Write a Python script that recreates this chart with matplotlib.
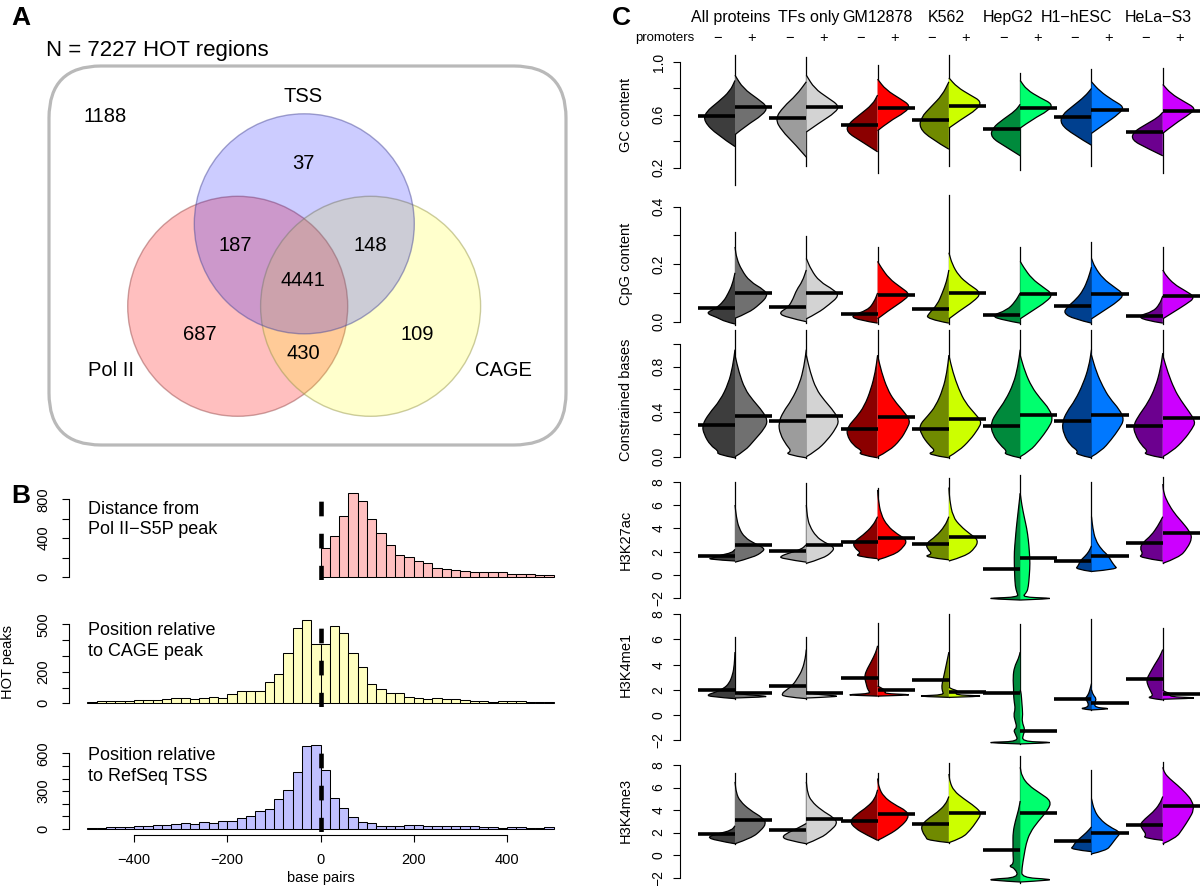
import numpy as np
import matplotlib
matplotlib.use('Agg')
import matplotlib.pyplot as plt
from matplotlib.patches import Circle, FancyBboxPatch, PathPatch
from matplotlib.path import Path

plt.rcParams['font.family'] = ['Liberation Sans', 'DejaVu Sans']
plt.rcParams['axes.linewidth'] = 0.8

# ---------------- DATA ----------------
N_TOTAL = 7227
VENN_SETS = ['TSS', 'Pol II', 'CAGE']
VENN_OUTSIDE = 1188
VENN_TSS_ONLY = 37
VENN_POL_TSS = 187
VENN_TSS_CAGE = 148
VENN_ALL = 4441
VENN_POL_ONLY = 687
VENN_CAGE_ONLY = 109
VENN_POL_CAGE = 430

HIST_BIN = 20
POL2_START = 0
POL2_COUNTS = [295, 423, 625, 862, 780, 594, 457, 330, 223, 203, 168, 148, 96, 79, 72,
               65, 55, 48, 48, 52, 34, 31, 27, 24, 20]
CAGE_START = -500
CAGE_COUNTS = [10, 15, 17, 17, 17, 19, 21, 21, 27, 36, 32, 30, 32, 38, 36, 57, 80, 80, 80, 135,
               186, 316, 476, 530, 376, 376, 489, 447, 321, 232, 122, 93, 68, 68, 42, 32, 30, 34,
               30, 25, 21, 17, 15, 11, 13, 17, 13, 11, 11, 8]
TSS_START = -500
TSS_COUNTS = [8, 8, 18, 18, 13, 24, 26, 29, 34, 40, 48, 40, 58, 48, 63, 63, 85, 103, 140, 159,
              235, 310, 455, 656, 664, 468, 249, 167, 98, 58, 45, 26, 26, 26, 29, 29, 24, 24,
              24, 26, 24, 24, 13, 13, 11, 13, 13, 5, 5, 16]
HIST_LABELS = ['Distance from\nPol II\u2212S5P peak', 'Position relative\nto CAGE peak',
               'Position relative\nto RefSeq TSS']

GROUPS = ['All proteins', 'TFs only', 'GM12878', 'K562', 'HepG2', 'H1\u2212hESC', 'HeLa\u2212S3']
ROW_NAMES = ['GC content', 'CpG content', 'Constrained bases', 'H3K27ac', 'H3K4me1', 'H3K4me3']
LEFT_COLORS = ['#3d3d3d', '#9c9c9c', '#8b0000', '#708a00', '#008a3c', '#00408f', '#6c008f']
RIGHT_COLORS = ['#707070', '#d3d3d3', '#ff0000', '#ccff00', '#00ff6e', '#0078ff', '#cc00ff']

# medians (promoters -, promoters +) per group
GC_MED = [(0.59, 0.66), (0.575, 0.66), (0.52, 0.65), (0.56, 0.67), (0.49, 0.65), (0.58, 0.64), (0.47, 0.63)]
CPG_MED = [(0.046, 0.1), (0.052, 0.1), (0.028, 0.094), (0.044, 0.1), (0.024, 0.095), (0.055, 0.095), (0.02, 0.088)]
CONS_MED = [(0.28, 0.36), (0.32, 0.36), (0.25, 0.355), (0.25, 0.334), (0.27, 0.367), (0.32, 0.37), (0.27, 0.343)]
K27_MED = [(1.66, 2.57), (2.09, 2.57), (2.86, 3.17), (2.66, 3.29), (0.51, 1.43), (1.23, 1.63), (2.71, 3.63)]
ME1_MED = [(1.99, 1.72), (2.3, 1.72), (2.94, 1.99), (2.78, 1.83), (1.72, -1.26), (1.25, 0.93), (2.83, 1.64)]
ME3_MED = [(1.84, 3.11), (2.22, 3.2), (3.05, 3.61), (2.76, 3.76), (0.44, 3.76), (1.27, 1.99), (2.67, 4.39)]

# overall range (min, max) of each bean
GC_RANGE = [(0.07, 1.05), (0.21, 1.04), (0.16, 0.98), (0.21, 1.05), (0.18, 0.92), (0.21, 0.95), (0.16, 0.955)]
CPG_RANGE = [(-0.012, 0.313), (-0.005, 0.298), (-0.008, 0.26), (-0.008, 0.44), (-0.008, 0.26), (-0.008, 0.278), (-0.008, 0.26)]
CONS_RANGE = [(-0.01, 1.12)] * 7
K27_RANGE = [(1.2, 8.0), (1.0, 7.9), (1.3, 7.5), (1.3, 8.3), (-2.1, 8.6), (0.3, 8.0), (1.0, 8.4)]
ME1_RANGE = [(1.3, 6.2), (1.3, 6.2), (1.5, 7.3), (1.4, 8.0), (-2.3, 7.2), (0.4, 7.6), (1.2, 6.9)]
ME3_RANGE = [(1.0, 7.3), (1.0, 7.3), (1.3, 7.3), (1.1, 8.2), (-2.5, 8.8), (0.1, 7.6), (1.0, 8.3)]

# density outlines: (value, relative half-width)
GC_LEFT = [
    [(0.36, 0), (0.45, 0.55), (0.55, 0.95), (0.62, 0.9), (0.70, 0.5), (0.78, 0.15), (0.86, 0)],
    [(0.28, 0), (0.38, 0.35), (0.48, 0.75), (0.57, 0.95), (0.66, 0.7), (0.75, 0.3), (0.85, 0)],
    [(0.32, 0), (0.40, 0.5), (0.47, 0.95), (0.53, 0.9), (0.60, 0.55), (0.68, 0.15), (0.75, 0)],
    [(0.34, 0), (0.42, 0.55), (0.50, 0.9), (0.58, 0.85), (0.66, 0.55), (0.75, 0.2), (0.85, 0)],
    [(0.29, 0), (0.36, 0.45), (0.43, 0.9), (0.50, 0.85), (0.57, 0.5), (0.63, 0.15), (0.68, 0)],
    [(0.37, 0), (0.45, 0.55), (0.53, 0.95), (0.60, 0.9), (0.67, 0.55), (0.74, 0.2), (0.80, 0)],
    [(0.29, 0), (0.35, 0.5), (0.41, 0.95), (0.47, 0.9), (0.53, 0.5), (0.58, 0.15), (0.62, 0)],
]
GC_RIGHT = [
    [(0.45, 0), (0.52, 0.35), (0.60, 0.85), (0.66, 1.0), (0.72, 0.7), (0.80, 0.25), (0.90, 0)],
    [(0.47, 0), (0.54, 0.4), (0.62, 0.9), (0.67, 1.0), (0.73, 0.65), (0.80, 0.25), (0.90, 0)],
    [(0.48, 0), (0.55, 0.35), (0.62, 0.85), (0.67, 1.0), (0.72, 0.7), (0.79, 0.25), (0.87, 0)],
    [(0.50, 0), (0.57, 0.4), (0.64, 0.85), (0.70, 1.0), (0.75, 0.65), (0.81, 0.25), (0.88, 0)],
    [(0.50, 0), (0.57, 0.4), (0.63, 0.85), (0.68, 1.0), (0.73, 0.6), (0.79, 0.2), (0.86, 0)],
    [(0.46, 0), (0.53, 0.4), (0.61, 0.85), (0.66, 1.0), (0.71, 0.65), (0.78, 0.25), (0.85, 0)],
    [(0.46, 0), (0.53, 0.35), (0.61, 0.85), (0.65, 1.0), (0.70, 0.65), (0.76, 0.25), (0.83, 0)],
]
CPG_LEFT = [
    [(-0.008, 0), (0.0, 0.3), (0.015, 0.55), (0.03, 0.9), (0.045, 0.6), (0.07, 0.35), (0.10, 0.2), (0.13, 0.08), (0.17, 0)],
    [(0.0, 0), (0.015, 0.6), (0.03, 0.85), (0.05, 0.55), (0.08, 0.4), (0.11, 0.3), (0.14, 0.12), (0.18, 0)],
    [(-0.005, 0), (0.005, 0.55), (0.02, 0.85), (0.04, 0.3), (0.07, 0.1), (0.10, 0)],
    [(-0.005, 0), (0.01, 0.7), (0.03, 0.6), (0.06, 0.35), (0.10, 0.2), (0.14, 0.07), (0.18, 0)],
    [(-0.005, 0), (0.005, 0.5), (0.02, 0.9), (0.04, 0.4), (0.07, 0.15), (0.10, 0)],
    [(-0.005, 0), (0.01, 0.55), (0.03, 0.85), (0.05, 0.75), (0.08, 0.45), (0.11, 0.25), (0.15, 0.1), (0.19, 0)],
    [(-0.005, 0), (0.005, 0.55), (0.02, 0.75), (0.035, 0.3), (0.06, 0.1), (0.09, 0)],
]
CPG_RIGHT = [
    [(0.012, 0), (0.03, 0.4), (0.06, 0.75), (0.09, 1.0), (0.11, 0.9), (0.14, 0.45), (0.18, 0.2), (0.22, 0.05), (0.26, 0)],
    [(0.01, 0), (0.03, 0.35), (0.06, 0.7), (0.09, 1.0), (0.11, 0.85), (0.14, 0.4), (0.18, 0.15), (0.22, 0)],
    [(0.01, 0), (0.04, 0.35), (0.07, 0.75), (0.095, 1.0), (0.12, 0.7), (0.15, 0.35), (0.19, 0.1), (0.21, 0)],
    [(0.01, 0), (0.04, 0.35), (0.07, 0.75), (0.10, 1.0), (0.13, 0.6), (0.16, 0.3), (0.20, 0.1), (0.24, 0)],
    [(0.01, 0), (0.04, 0.4), (0.07, 0.8), (0.095, 1.0), (0.12, 0.7), (0.15, 0.35), (0.19, 0.1), (0.21, 0)],
    [(0.01, 0), (0.04, 0.4), (0.07, 0.8), (0.095, 1.0), (0.12, 0.7), (0.15, 0.35), (0.19, 0.1), (0.22, 0)],
    [(0.01, 0), (0.035, 0.35), (0.06, 0.7), (0.085, 1.0), (0.11, 0.65), (0.13, 0.35), (0.16, 0.1), (0.18, 0)],
]
CONS_LEFT = [
    [(-0.01, 0), (0.02, 0.55), (0.05, 0.5), (0.1, 0.75), (0.2, 0.95), (0.28, 1.0), (0.38, 0.8), (0.5, 0.45), (0.65, 0.2), (0.8, 0.07), (0.95, 0)],
    [(-0.01, 0), (0.02, 0.65), (0.05, 0.45), (0.1, 0.6), (0.2, 0.8), (0.3, 0.85), (0.4, 0.7), (0.5, 0.45), (0.65, 0.2), (0.8, 0.07), (0.95, 0)],
    [(-0.01, 0), (0.02, 0.6), (0.05, 0.45), (0.1, 0.75), (0.2, 0.95), (0.27, 0.9), (0.35, 0.65), (0.45, 0.4), (0.6, 0.2), (0.75, 0.07), (0.9, 0)],
    [(-0.01, 0), (0.02, 0.7), (0.05, 0.4), (0.1, 0.6), (0.2, 0.85), (0.28, 0.9), (0.36, 0.65), (0.45, 0.4), (0.6, 0.18), (0.75, 0.06), (0.9, 0)],
    [(-0.01, 0), (0.02, 0.5), (0.05, 0.4), (0.1, 0.6), (0.2, 0.85), (0.3, 0.9), (0.4, 0.7), (0.5, 0.45), (0.65, 0.2), (0.8, 0.07), (0.95, 0)],
    [(-0.01, 0), (0.02, 0.5), (0.05, 0.4), (0.1, 0.65), (0.2, 0.85), (0.3, 0.9), (0.4, 0.75), (0.5, 0.5), (0.65, 0.25), (0.8, 0.08), (0.95, 0)],
    [(-0.01, 0), (0.02, 0.6), (0.05, 0.45), (0.1, 0.65), (0.2, 0.85), (0.28, 0.9), (0.38, 0.7), (0.48, 0.45), (0.62, 0.22), (0.78, 0.07), (0.92, 0)],
]
CONS_RIGHT = [
    [(0.0, 0), (0.05, 0.3), (0.15, 0.6), (0.25, 0.9), (0.32, 1.0), (0.4, 0.85), (0.5, 0.55), (0.6, 0.3), (0.75, 0.12), (0.9, 0)],
    [(0.0, 0), (0.05, 0.3), (0.15, 0.65), (0.25, 0.9), (0.32, 1.0), (0.4, 0.85), (0.5, 0.55), (0.6, 0.3), (0.75, 0.12), (0.9, 0)],
    [(0.0, 0), (0.05, 0.35), (0.15, 0.7), (0.25, 0.9), (0.32, 1.0), (0.4, 0.8), (0.5, 0.5), (0.6, 0.3), (0.75, 0.12), (0.9, 0)],
    [(0.0, 0), (0.05, 0.3), (0.15, 0.65), (0.25, 0.9), (0.31, 1.0), (0.38, 0.8), (0.48, 0.5), (0.6, 0.3), (0.75, 0.12), (0.9, 0)],
    [(0.0, 0), (0.05, 0.3), (0.15, 0.6), (0.25, 0.85), (0.33, 1.0), (0.42, 0.9), (0.52, 0.6), (0.62, 0.35), (0.75, 0.15), (0.9, 0)],
    [(0.0, 0), (0.05, 0.3), (0.15, 0.6), (0.25, 0.85), (0.33, 1.0), (0.42, 0.85), (0.52, 0.55), (0.62, 0.35), (0.75, 0.15), (0.9, 0)],
    [(0.0, 0), (0.05, 0.3), (0.15, 0.65), (0.25, 0.9), (0.31, 1.0), (0.4, 0.8), (0.5, 0.55), (0.6, 0.35), (0.75, 0.15), (0.9, 0)],
]
K27_LEFT = [
    [(1.2, 0), (1.35, 0.9), (1.5, 0.6), (1.7, 0.45), (1.9, 0.1), (2.2, 0)],
    [(1.1, 0), (1.4, 0.75), (1.6, 0.8), (1.9, 0.5), (2.2, 0.15), (2.6, 0)],
    [(1.4, 0), (1.6, 0.7), (1.9, 0.5), (2.3, 0.7), (2.8, 0.75), (3.4, 0.45), (4.2, 0.15), (5.0, 0)],
    [(1.3, 0), (1.55, 0.8), (1.8, 0.5), (2.2, 0.65), (2.7, 0.7), (3.3, 0.4), (4.2, 0.12), (5.0, 0)],
    [(-2.15, 0), (-2.05, 0.9), (-1.98, 0.9), (-1.9, 0.05), (-1.5, 0.1), (-1.0, 0.15), (0, 0.17), (1, 0.18), (2, 0.18), (3, 0.15), (4, 0.12), (5, 0.08), (6, 0.04), (7, 0)],
    [(0.3, 0), (0.5, 0.5), (0.8, 0.4), (1.2, 0.35), (1.6, 0.2), (2.0, 0.08), (2.5, 0)],
    [(1.2, 0), (1.5, 0.75), (1.8, 0.6), (2.3, 0.7), (2.8, 0.6), (3.4, 0.35), (4.2, 0.15), (5.0, 0)],
]
K27_RIGHT = [
    [(1.1, 0), (1.5, 0.55), (2.0, 0.85), (2.3, 0.9), (2.7, 0.6), (3.2, 0.3), (4.0, 0.12), (5.0, 0.04), (6.0, 0)],
    [(1.0, 0), (1.4, 0.5), (2.0, 0.8), (2.4, 0.85), (2.8, 0.55), (3.3, 0.3), (4.2, 0.1), (5.0, 0.03), (6.0, 0)],
    [(1.3, 0), (1.7, 0.5), (2.4, 0.8), (3.0, 0.9), (3.5, 0.6), (4.2, 0.3), (5.2, 0.1), (6.5, 0.02), (7.3, 0)],
    [(1.2, 0), (1.6, 0.5), (2.3, 0.8), (3.0, 0.9), (3.5, 0.65), (4.2, 0.35), (5.0, 0.12), (6.5, 0.02), (7.5, 0)],
    [(-2.15, 0), (-2.05, 0.9), (-1.98, 0.9), (-1.9, 0.05), (-1.5, 0.2), (-1.0, 0.25), (0, 0.28), (1, 0.3), (2, 0.28), (3, 0.25), (4, 0.2), (5, 0.12), (6, 0.05), (7, 0)],
    [(0.3, 0), (0.5, 0.8), (0.8, 0.7), (1.2, 0.6), (1.7, 0.5), (2.2, 0.3), (3.0, 0.12), (4.0, 0.04), (5.0, 0)],
    [(1.0, 0), (1.5, 0.5), (2.3, 0.75), (3.2, 0.9), (3.8, 0.8), (4.5, 0.6), (5.3, 0.35), (6.2, 0.15), (7.0, 0.03), (7.8, 0)],
]
ME1_LEFT = [
    [(1.3, 0), (1.45, 0.75), (1.6, 0.85), (1.8, 0.6), (2.1, 0.35), (2.5, 0.18), (3.2, 0.07), (4.0, 0.02), (5.0, 0)],
    [(1.3, 0), (1.45, 0.7), (1.7, 0.75), (2.0, 0.6), (2.4, 0.4), (3.0, 0.25), (3.6, 0.12), (4.5, 0.03), (5.2, 0)],
    [(1.5, 0), (1.57, 0.85), (1.63, 0.85), (1.7, 0.2), (2.0, 0.3), (2.5, 0.35), (3.0, 0.4), (3.5, 0.35), (4.2, 0.2), (5.0, 0.05), (5.5, 0)],
    [(1.4, 0), (1.47, 0.85), (1.53, 0.85), (1.6, 0.15), (1.9, 0.2), (2.3, 0.22), (2.8, 0.18), (3.5, 0.12), (4.5, 0.04), (5.0, 0)],
    [(-2.3, 0), (-2.22, 0.9), (-2.16, 0.9), (-2.1, 0.05), (-1.5, 0.15), (-1.2, 0.2), (-1.0, 0.1), (-0.5, 0.15), (0, 0.2), (0.5, 0.15), (1.0, 0.18), (1.5, 0.2), (2.0, 0.2), (3.0, 0.22), (3.8, 0.18), (4.5, 0.05), (5.0, 0)],
    [(0.4, 0), (0.5, 0.4), (0.6, 0.1), (1.0, 0.1), (1.3, 0.2), (1.6, 0.1), (2.0, 0.05), (2.5, 0)],
    [(1.2, 0), (1.35, 0.5), (1.5, 0.3), (1.8, 0.35), (2.3, 0.45), (2.8, 0.5), (3.3, 0.4), (4.0, 0.25), (4.6, 0.1), (5.2, 0)],
]
ME1_RIGHT = [
    [(1.35, 0), (1.43, 0.95), (1.5, 0.95), (1.6, 0.4), (1.7, 0.1), (1.8, 0)],
    [(1.35, 0), (1.45, 0.95), (1.53, 0.9), (1.62, 0.4), (1.75, 0.1), (1.85, 0)],
    [(1.5, 0), (1.57, 0.95), (1.63, 0.95), (1.7, 0.2), (1.9, 0.25), (2.1, 0.15), (2.3, 0)],
    [(1.4, 0), (1.47, 0.95), (1.53, 0.95), (1.6, 0.15), (1.9, 0.3), (2.05, 0.1), (2.2, 0)],
    [(-2.3, 0), (-2.22, 0.9), (-2.16, 0.9), (-2.1, 0.05), (-1.5, 0.1), (-1.2, 0.15), (-0.5, 0.05), (0, 0.08), (1.0, 0.05), (1.7, 0.03), (2.0, 0)],
    [(0.4, 0), (0.47, 0.5), (0.53, 0.5), (0.6, 0.1), (1.0, 0.1), (1.3, 0.15), (1.6, 0.05), (2.0, 0)],
    [(1.25, 0), (1.32, 0.95), (1.38, 0.95), (1.45, 0.2), (1.7, 0.25), (1.85, 0.05), (2.0, 0)],
]
ME3_LEFT = [
    [(1.0, 0), (1.3, 0.6), (1.6, 0.85), (1.9, 0.5), (2.2, 0.1), (2.6, 0)],
    [(1.0, 0), (1.3, 0.55), (1.6, 0.75), (2.0, 0.55), (2.4, 0.25), (2.8, 0)],
    [(1.3, 0), (1.8, 0.35), (2.4, 0.7), (3.0, 0.85), (3.6, 0.65), (4.3, 0.3), (5.0, 0.08), (5.8, 0)],
    [(1.1, 0), (1.3, 0.65), (1.6, 0.7), (2.0, 0.8), (2.6, 0.85), (3.2, 0.65), (3.8, 0.35), (4.5, 0.1), (5.2, 0)],
    [(-2.4, 0), (-2.25, 0.9), (-2.15, 0.9), (-2.0, 0.05), (-1.2, 0.15), (-1.0, 0.35), (-0.8, 0.2), (0, 0.22), (1.0, 0.22), (2.0, 0.22), (3.0, 0.15), (4.0, 0.05), (4.8, 0)],
    [(0.3, 0), (0.5, 0.65), (0.8, 0.55), (1.1, 0.5), (1.5, 0.35), (2.0, 0.15), (2.5, 0)],
    [(1.3, 0), (1.5, 0.6), (1.8, 0.5), (2.2, 0.6), (2.7, 0.7), (3.2, 0.55), (3.8, 0.3), (4.5, 0.1), (5.2, 0)],
]
ME3_RIGHT = [
    [(1.0, 0), (1.5, 0.5), (2.2, 0.8), (2.8, 0.95), (3.3, 0.85), (4.0, 0.45), (4.8, 0.15), (5.5, 0.04), (6.5, 0)],
    [(1.0, 0), (1.5, 0.45), (2.2, 0.75), (2.8, 0.95), (3.3, 0.85), (4.0, 0.45), (4.8, 0.15), (5.5, 0.04), (6.5, 0)],
    [(1.3, 0), (1.8, 0.35), (2.5, 0.7), (3.3, 0.95), (3.9, 0.9), (4.5, 0.5), (5.2, 0.18), (6.0, 0.04), (6.8, 0)],
    [(1.1, 0), (1.5, 0.4), (2.2, 0.65), (3.0, 0.85), (3.7, 1.0), (4.3, 0.8), (5.0, 0.45), (5.7, 0.15), (6.5, 0.03), (7.2, 0)],
    [(-2.4, 0), (-2.25, 0.9), (-2.15, 0.9), (-2.0, 0.05), (-1.2, 0.05), (0, 0.12), (1.0, 0.18), (2.0, 0.3), (3.0, 0.55), (4.0, 0.85), (4.8, 0.95), (5.5, 0.6), (6.2, 0.25), (7.0, 0.05), (7.8, 0)],
    [(0.1, 0), (0.4, 0.45), (0.9, 0.6), (1.5, 0.75), (2.0, 0.9), (2.5, 0.55), (3.2, 0.25), (4.0, 0.08), (5.0, 0)],
    [(1.0, 0), (1.5, 0.4), (2.3, 0.6), (3.2, 0.8), (4.0, 0.95), (4.8, 0.9), (5.5, 0.7), (6.2, 0.45), (6.8, 0.2), (7.3, 0.05), (7.8, 0)],
]

ROW_LEFT = [GC_LEFT, CPG_LEFT, CONS_LEFT, K27_LEFT, ME1_LEFT, ME3_LEFT]
ROW_RIGHT = [GC_RIGHT, CPG_RIGHT, CONS_RIGHT, K27_RIGHT, ME1_RIGHT, ME3_RIGHT]
ROW_MED = [GC_MED, CPG_MED, CONS_MED, K27_MED, ME1_MED, ME3_MED]
ROW_RANGE = [GC_RANGE, CPG_RANGE, CONS_RANGE, K27_RANGE, ME1_RANGE, ME3_RANGE]
ROW_TICKS = [[0.2, 0.4, 0.6, 0.8, 1.0], [0.0, 0.1, 0.2, 0.3, 0.4], [0.0, 0.2, 0.4, 0.6, 0.8, 1.0],
             [-2, 0, 2, 4, 6, 8], [-2, 0, 2, 4, 6, 8], [-2, 0, 2, 4, 6, 8]]
ROW_TICKLABELS = [['0.2', '', '0.6', '', '1.0'], ['0.0', '', '0.2', '', '0.4'],
                  ['0.0', '', '0.4', '', '0.8', ''],
                  ['\u22122', '0', '2', '4', '6', '8'], ['\u22122', '0', '2', '4', '6', '8'],
                  ['\u22122', '0', '2', '4', '6', '8']]

# ---------------- LAYOUT ----------------
W, H = 1200, 886
fig = plt.figure(figsize=(12, 8.86), dpi=100)


def px_axes(x0, x1, y_top, y_bot):
    return fig.add_axes([x0 / W, 1 - y_bot / H, (x1 - x0) / W, (y_bot - y_top) / H])


def lin_axes(xa_px, xa_v, xb_px, xb_v, xlim, ya_px, ya_v, yb_px, yb_v, ylim):
    sx = (xb_px - xa_px) / (xb_v - xa_v)
    sy = (yb_px - ya_px) / (yb_v - ya_v)
    x0 = xa_px + (xlim[0] - xa_v) * sx
    x1 = xa_px + (xlim[1] - xa_v) * sx
    ytop = ya_px + (ylim[1] - ya_v) * sy
    ybot = ya_px + (ylim[0] - ya_v) * sy
    ax = px_axes(x0, x1, ytop, ybot)
    ax.set_xlim(xlim)
    ax.set_ylim(ylim)
    ax.patch.set_alpha(0)
    for s in ['top', 'right']:
        ax.spines[s].set_visible(False)
    return ax


ov = fig.add_axes([0, 0, 1, 1])
ov.set_xlim(0, W)
ov.set_ylim(H, 0)
ov.axis('off')

# ---------- Panel A: Venn ----------
ov.text(11, 18, 'A', fontsize=19, fontweight='bold', va='center', ha='left')
ov.text(46, 50, f'N = {N_TOTAL} HOT regions', fontsize=16, va='center', ha='left')
ov.add_patch(FancyBboxPatch((49, 66), 517, 379, boxstyle='round,pad=0,rounding_size=52',
                            facecolor='none', edgecolor='#b9b9b9', lw=2.3))
R = 110
ov.add_patch(Circle((237.7, 306.3), R, facecolor=(1, 0, 0, 0.25), edgecolor=(0.6, 0.3, 0.3, 0.5), lw=1))
ov.add_patch(Circle((370.6, 306.3), R, facecolor=(1, 1, 0, 0.2), edgecolor=(0.6, 0.6, 0.3, 0.5), lw=1))
ov.add_patch(Circle((304.3, 223.8), R, facecolor=(0, 0, 1, 0.2), edgecolor=(0.3, 0.3, 0.6, 0.5), lw=1))
venn_txt = [(VENN_SETS[0], 303.4, 96.7), (str(VENN_OUTSIDE), 105.4, 116.7), (str(VENN_TSS_ONLY), 303.4, 163.3),
            (str(VENN_POL_TSS), 235, 245.7), (str(VENN_TSS_CAGE), 370, 245.7), (str(VENN_ALL), 303.4, 280),
            (str(VENN_POL_ONLY), 199.8, 335), (str(VENN_CAGE_ONLY), 417.3, 335), (str(VENN_POL_CAGE), 303.4, 353.3),
            (VENN_SETS[1], 111, 370.7), (VENN_SETS[2], 503, 370.7)]
for t, x, y in venn_txt:
    ov.text(x, y, t, fontsize=14.5, ha='center', va='center')

# ---------- Panel B: histograms ----------
ov.text(11, 496, 'B', fontsize=19, fontweight='bold', va='center', ha='left')
hist_specs = [
    (POL2_START, POL2_COUNTS, '#ffc0c0', (577.0, 0, 499.3, 800), [0, 200, 400, 600, 800], ['0', '', '400', '', '800']),
    (CAGE_START, CAGE_COUNTS, '#ffffc0', (703.3, 0, 624.3, 500), [0, 100, 200, 300, 400, 500], ['0', '', '200', '', '', '500']),
    (TSS_START, TSS_COUNTS, '#c0c0ff', (829.0, 0, 753.3, 600), [0, 100, 200, 300, 400, 500, 600], ['0', '', '', '300', '', '', '600']),
]
text_y = [(509, 530), (630.7, 651.7), (755.7, 776.7)]
for k, (start, counts, col, anch, ticks, tlabels) in enumerate(hist_specs):
    counts = np.array(counts)
    ymax = counts.max()
    ylim = (-0.04 * ymax, 1.04 * ymax)
    ax = lin_axes(133.9, -400, 507.1, 400, (-540, 540), anch[0], anch[1], anch[2], anch[3], ylim)
    edges = start + HIST_BIN * np.arange(len(counts))
    ax.bar(edges, counts, width=HIST_BIN, align='edge', color=col, edgecolor='black', lw=0.75)
    ax.axvline(0, color='black', lw=3.3, ls=(0, (3.2, 3.8)), zorder=5)
    ax.spines['left'].set_bounds(ticks[0], ticks[-1])
    ax.set_yticks(ticks)
    ax.set_yticklabels(tlabels, rotation=90, va='center', fontsize=10.5)
    ax.tick_params(axis='y', length=5, width=0.8, pad=8)
    if k < 2:
        ax.spines['bottom'].set_visible(False)
        ax.set_xticks([])
    else:
        ax.spines['bottom'].set_position(('outward', 2))
        ax.spines['bottom'].set_bounds(-400, 400)
        ax.set_xticks([-400, -200, 0, 200, 400])
        ax.set_xticklabels(['\u2212400', '\u2212200', '0', '200', '400'], fontsize=10.5)
        ax.tick_params(axis='x', length=5, width=0.8, pad=8)
    l1, l2 = HIST_LABELS[k].split('\n')
    ov.text(87.5, text_y[k][0], l1, fontsize=13, va='center', ha='left')
    ov.text(87.5, text_y[k][1], l2, fontsize=13, va='center', ha='left')
ov.text(320.5, 878, 'base pairs', fontsize=10.5, ha='center', va='center')
ov.text(8, 662, 'HOT peaks', fontsize=10.5, ha='center', va='center', rotation=90)

# ---------- Panel C: bean plots ----------
ov.text(612, 18, 'C', fontsize=19, fontweight='bold', va='center', ha='left')
C0, DC = 735.0, 71.3
MAXW = 0.46
LINEW = 0.52
row_anchor = [(62.0, 1.0, 167.7, 0.2), (206.7, 0.4, 321.7, 0.0), (344.0, 1.0, 456.7, 0.0),
              (481.7, 8, 598.3, -2), (614.3, 8, 715.0, 0), (765.0, 8, 855.0, 0)]
xlim_c = ((679.5 - C0) / DC, (1200 - C0) / DC)


def half_bean(ax, c, pts, side, color):
    v = [p[0] for p in pts]
    x = [c + side * p[1] * MAXW for p in pts]
    verts = [(x[0], v[0])]
    codes = [Path.MOVETO]
    for i in range(1, len(v) - 1):
        verts += [(x[i], v[i]), ((x[i] + x[i + 1]) / 2, (v[i] + v[i + 1]) / 2)]
        codes += [Path.CURVE3, Path.CURVE3]
    verts.append((x[-1], v[-1]))
    codes.append(Path.LINETO)
    fill = Path(verts + [(c, v[0]), (c, v[0])], codes + [Path.LINETO, Path.CLOSEPOLY])
    ax.add_patch(PathPatch(fill, facecolor=color, edgecolor='none', clip_on=False, zorder=2))
    ax.add_patch(PathPatch(Path(verts, codes), facecolor='none', edgecolor='black', lw=0.9,
                           clip_on=False, zorder=3))


for r in range(6):
    ticks = ROW_TICKS[r]
    a = row_anchor[r]
    ax = lin_axes(C0, 0, C0 + DC, 1, xlim_c, a[0], a[1], a[2], a[3], (ticks[0], ticks[-1]))
    ax.spines['bottom'].set_visible(False)
    ax.set_xticks([])
    ax.set_yticks(ticks)
    ax.set_yticklabels(ROW_TICKLABELS[r], rotation=90, va='center', fontsize=10)
    ax.tick_params(axis='y', length=5, width=0.8, pad=5)
    for g in range(7):
        lo, hi = ROW_RANGE[r][g]
        ax.plot([g, g], [lo, hi], color='black', lw=0.9, zorder=1.5, clip_on=False)
        half_bean(ax, g, ROW_LEFT[r][g], -1, LEFT_COLORS[g])
        half_bean(ax, g, ROW_RIGHT[r][g], 1, RIGHT_COLORS[g])
        ml, mr = ROW_MED[r][g]
        ax.plot([g - LINEW, g], [ml, ml], color='black', lw=2.6, solid_capstyle='butt', zorder=4, clip_on=False)
        ax.plot([g, g + LINEW], [mr, mr], color='black', lw=2.6, solid_capstyle='butt', zorder=4, clip_on=False)
    ov.text(626, (a[0] + a[2]) / 2 if r != 2 else 400, ROW_NAMES[r], fontsize=10.5, rotation=90,
            ha='center', va='center')

label_x = [731, 809, 877, 946, 1008, 1077, 1158]
for g in range(7):
    c = C0 + DC * g
    ov.text(label_x[g], 17, GROUPS[g], fontsize=11.5, ha='center', va='center')
    ov.text(c - 17, 38, '\u2212', fontsize=10.5, ha='center', va='center')
    ov.text(c + 17, 38, '+', fontsize=10.5, ha='center', va='center')
ov.text(694, 38, 'promoters', fontsize=9.5, ha='right', va='center')

fig.savefig('out.png', dpi=100)
